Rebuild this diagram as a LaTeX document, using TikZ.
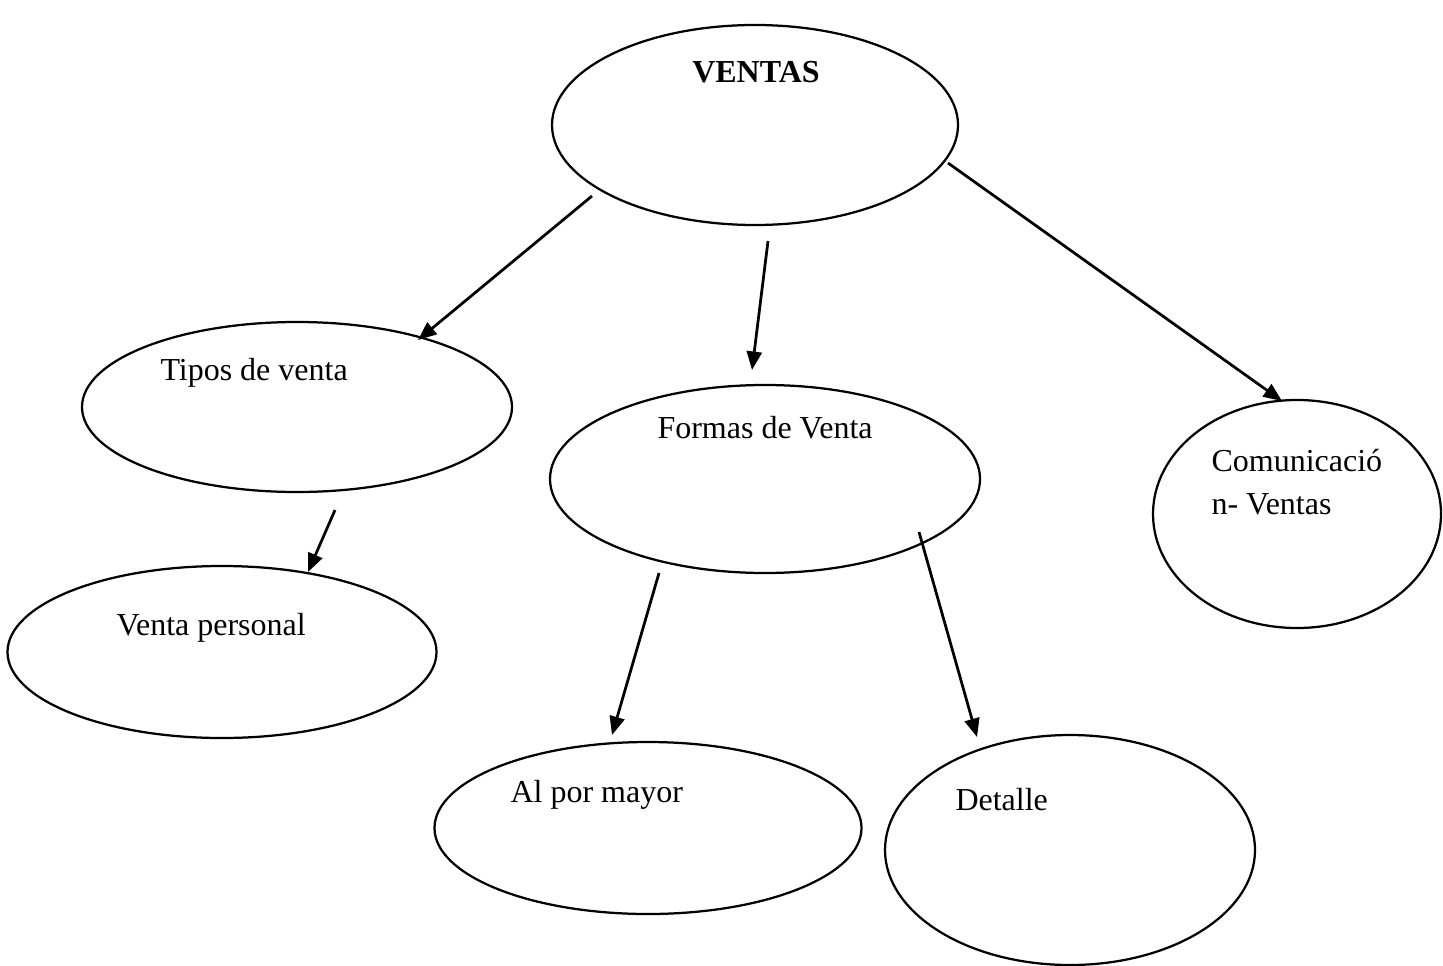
\documentclass[tikz,border=0pt]{standalone}
\usepackage{fontspec}
\setmainfont{Liberation Serif}
\usetikzlibrary{shapes.geometric,arrows.meta}
\begin{document}
\begin{tikzpicture}[x=0.4pt,y=-0.4pt,
  bubble/.style={draw,ellipse,line width=0.9pt,inner sep=0pt},
  lbl/.style={anchor=base west,inner sep=0pt,font=\fontsize{12.8}{15}\selectfont},
  link/.style={line width=1.1pt,-{Triangle[length=7.4pt,width=6pt]}}]
\useasboundingbox (0,0) rectangle (1443,965);
% ellipses
\node[bubble,minimum width=162.4pt,minimum height=80pt] (ventas) at (755,125) {};
\node[bubble,minimum width=172pt,minimum height=68pt] (tipos) at (297,407) {};
\node[bubble,minimum width=172pt,minimum height=75.2pt] (formas) at (765,479) {};
\node[bubble,minimum width=115.2pt,minimum height=91.2pt] (comun) at (1297,514) {};
\node[bubble,minimum width=171.6pt,minimum height=68.8pt] (personal) at (222,652) {};
\node[bubble,minimum width=170.8pt,minimum height=68.8pt] (mayor) at (648,828) {};
\node[bubble,minimum width=148pt,minimum height=92pt] (detalle) at (1070,850) {};
% labels
\node[anchor=base,inner sep=0pt,font=\fontsize{12.8}{15}\selectfont\bfseries] (tVentas) at (756,83) {VENTAS};
\node[lbl] (tTipos) at (160,380) {Tipos de venta};
\node[lbl] (tFormas) at (657,438) {Formas de Venta};
\node[lbl] (tCom1) at (1211,471) {Comunicació};
\node[lbl] (tCom2) at (1211,514) {n- Ventas};
\node[lbl] (tPersonal) at (116,635) {Venta personal};
\node[lbl] (tMayor) at (510,802) {Al por mayor};
\node[lbl] (tDetalle) at (955,810) {Detalle};
% arrow end points
\coordinate (a1) at (592,196); \coordinate (b1) at (418,340);
\coordinate (a2) at (768,241); \coordinate (b2) at (752,370);
\coordinate (a3) at (948,163); \coordinate (b3) at (1282,401);
\coordinate (a4) at (335,510); \coordinate (b4) at (308,572);
\coordinate (a5) at (659,573); \coordinate (b5) at (612,735);
\coordinate (a6) at (919,532); \coordinate (b6) at (977,737);
\draw[link] (a1) -- (b1);
\draw[link] (a2) -- (b2);
\draw[link] (a3) -- (b3);
\draw[link] (a4) -- (b4);
\draw[link] (a5) -- (b5);
\draw[link] (a6) -- (b6);
\end{tikzpicture}
\end{document}
